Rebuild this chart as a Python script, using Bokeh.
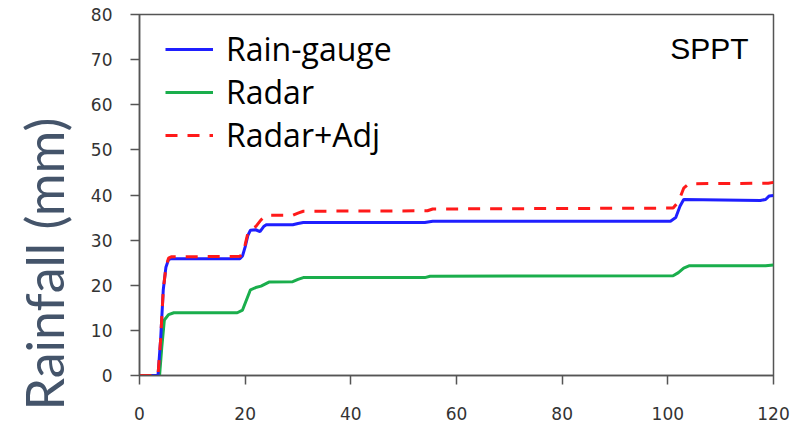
import math
from bokeh.plotting import figure
from bokeh.models import Range1d, Legend, LegendItem, Label, FixedTicker, Title
from bokeh.embed import file_html
from bokeh.resources import INLINE

# ---- data (hours vs accumulated rainfall, mm) ----
gauge_t = [0, 3.5, 4.0, 4.5, 5.0, 5.5, 6.0, 19.0, 19.5, 20.0, 20.5, 21.0, 22.0, 22.8, 23.5, 24.0,
           29.0, 30.0, 31.0, 54.0, 55.5, 100.5, 101.5, 102.3, 103.0, 117.5, 118.5, 119.2, 120]
gauge_v = [0, 0, 8, 19, 24, 25.7, 25.9, 25.9, 26.5, 28.5, 31.0, 32.2, 32.3, 31.9, 33.0, 33.4,
           33.4, 33.7, 33.9, 33.9, 34.2, 34.2, 35.0, 37.5, 39.0, 38.8, 39.0, 39.8, 39.9]

radar_t = [0, 3.8, 4.2, 4.7, 5.5, 6.5, 18.5, 19.5, 20.5, 21.0, 22.0, 23.0, 24.5, 29.0, 30.0, 31.0,
           54.0, 55.0, 101.0, 102.0, 103.0, 104.0, 118.5, 120]
radar_v = [0, 0, 6, 12.3, 13.5, 13.9, 13.9, 14.5, 17.5, 19.0, 19.5, 19.8, 20.7, 20.8, 21.3, 21.7,
           21.7, 22.0, 22.1, 22.8, 23.8, 24.3, 24.3, 24.5]

adj_t = [0, 3.5, 4.0, 4.5, 5.0, 5.5, 6.0, 19.0, 19.5, 20.0, 20.5, 21.0, 22.0, 23.0, 24.0, 29.0,
         30.0, 31.0, 54.5, 55.5, 101.0, 102.0, 103.0, 104.0, 119.0, 120]
adj_v = [0, 0, 8, 19, 24, 26.0, 26.3, 26.4, 27.0, 29.0, 31.5, 32.3, 33.0, 34.5, 35.5, 35.5,
         36.0, 36.4, 36.5, 36.9, 37.1, 38.5, 41.5, 42.5, 42.6, 42.8]

x_ticks = [0, 20, 40, 60, 80, 100, 120]
y_ticks = [0, 10, 20, 30, 40, 50, 60, 70, 80]
series_names = ["Rain-gauge", "Radar", "Radar+Adj"]
station = "SPPT"
y_title = "Rainfall (mm)"

p = figure(width=797, height=430, output_backend="svg", toolbar_location=None,
           x_range=Range1d(0, 120), y_range=Range1d(0, 80))
p.min_border_left = 139
p.min_border_right = 24
p.min_border_top = 14
p.min_border_bottom = 55
p.grid.visible = False
p.background_fill_color = "white"
p.border_fill_color = "white"
p.outline_line_color = "#555555"
p.outline_line_width = 1.5

for ax, ticks in ((p.xaxis, x_ticks), (p.yaxis, y_ticks)):
    ax.ticker = FixedTicker(ticks=ticks)
    ax.axis_line_color = "#555555"
    ax.axis_line_width = 1.5
    ax.major_tick_line_color = "#555555"
    ax.major_tick_line_width = 1.5
    ax.major_tick_out = 9
    ax.major_tick_in = 0
    ax.minor_tick_line_color = None
    ax.major_label_text_font = "DejaVu Sans"
    ax.major_label_text_font_size = "17px"
    ax.major_label_text_color = "#333333"
p.yaxis.major_label_standoff = 18
p.xaxis.major_label_standoff = 22

r_radar = p.line(radar_t, radar_v, line_color="#1aae4c", line_width=3)
r_gauge = p.line(gauge_t, gauge_v, line_color="#1f1fff", line_width=3)
r_adj = p.line(adj_t, adj_v, line_color="#ff1a1a", line_width=3, line_dash="12 10")

legend = Legend(items=[LegendItem(label=series_names[0], renderers=[r_gauge]),
                       LegendItem(label=series_names[1], renderers=[r_radar]),
                       LegendItem(label=series_names[2], renderers=[r_adj])],
                location=(26, 219), padding=0, margin=0, border_line_color=None,
                background_fill_alpha=0, glyph_width=48, glyph_height=40,
                label_height=40, spacing=0, label_standoff=13,
                label_text_font="Open Sans", label_text_font_size="32px",
                label_text_color="black")
p.add_layout(legend, "center")

p.add_layout(Title(text=y_title, align="left", offset=-35, vertical_align="middle",
                   text_font="Lato", text_font_size="52px", text_color="#44546A",
                   text_font_style="normal", standoff=23), "left")
p.add_layout(Label(x=115.3, y=72.5, text=station,
                   text_align="right", text_baseline="middle",
                   text_font="Liberation Sans", text_font_size="30px", text_color="black"))

open("out.html", "w").write(file_html(p, INLINE))
